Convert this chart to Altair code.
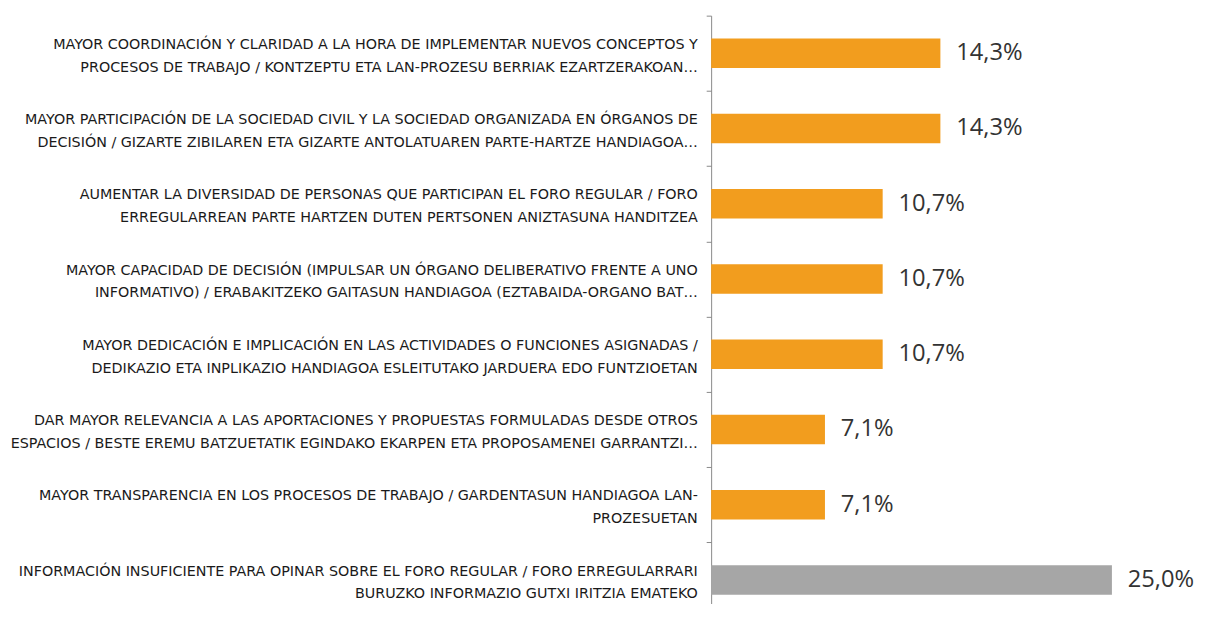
import altair as alt
import pandas as pd

line1 = [
    "Mayor coordinación y claridad a la hora de implementar nuevos conceptos y",
    "Mayor participación de la sociedad civil y la sociedad organizada en órganos de",
    "Aumentar la diversidad de personas que participan el foro regular / Foro",
    "Mayor capacidad de decisión (impulsar un órgano deliberativo frente a uno",
    "Mayor dedicación e implicación en las actividades o funciones asignadas /",
    "Dar mayor relevancia a las aportaciones y propuestas formuladas desde otros",
    "Mayor transparencia en los procesos de trabajo / Gardentasun handiagoa lan-",
    "Información insuficiente para opinar sobre el Foro regular / Foro erregularrari",
]
line2 = [
    "procesos de trabajo / Kontzeptu eta lan-prozesu berriak ezartzerakoan…",
    "decisión / Gizarte zibilaren eta gizarte antolatuaren parte-hartze handiagoa…",
    "erregularrean parte hartzen duten pertsonen aniztasuna handitzea",
    "informativo) / Erabakitzeko gaitasun handiagoa (eztabaida-organo bat…",
    "Dedikazio eta inplikazio handiagoa esleitutako jarduera edo funtzioetan",
    "espacios / Beste eremu batzuetatik egindako ekarpen eta proposamenei garrantzi…",
    "prozesuetan",
    "buruzko informazio gutxi iritzia emateko",
]
values = [14.3, 14.3, 10.7, 10.7, 10.7, 7.1, 7.1, 25.0]
groups = ["mejora"] * 7 + ["info"]

df = pd.DataFrame({
    "label": [a + "|" + b for a, b in zip(line1, line2)],
    "value": values,
    "grupo": groups,
})

y = alt.Y(
    "label:N",
    sort=None,
    scale=alt.Scale(range=[0, 609.6], paddingInner=0, paddingOuter=0),
    axis=alt.Axis(
        title=None,
        labelExpr="split(upper(datum.label), '|')",
        labelFont="DejaVu Sans",
        labelFontSize=14.5,
        labelColor="#1a1a1a",
        labelLineHeight=23,
        labelPadding=9,
        labelOffset=-9,
        labelLimit=0,
        labelAlign="right",
        labelBaseline="middle",
        tickBand="extent",
        tickSize=5,
        tickColor="#888888",
        domainColor="#888888",
    ),
)
x = alt.X("value:Q", scale=alt.Scale(domain=[0, 30]), axis=None)

bars = alt.Chart(df).mark_bar(size=30).encode(
    y=y,
    x=x,
    color=alt.Color(
        "grupo:N",
        scale=alt.Scale(domain=["mejora", "info"], range=["#F29D1E", "#A6A6A6"]),
        legend=None,
    ),
)

text = alt.Chart(df).transform_calculate(
    lbl="replace(format(datum.value, '.1f'), '.', ',') + '%'"
).mark_text(
    align="left", baseline="middle", dx=16, font="Open Sans", fontSize=24, color="#333333"
).encode(y=y, x=x, text="lbl:N")

chart = alt.layer(bars, text).properties(
    width=487,
    height=592,
    autosize=alt.AutoSizeParams(type="none"),
    padding={"left": 712, "top": 4, "right": 6, "bottom": 0},
).configure_view(stroke=None)

chart.save("out.html", embed_options={"renderer": "svg", "actions": False})
